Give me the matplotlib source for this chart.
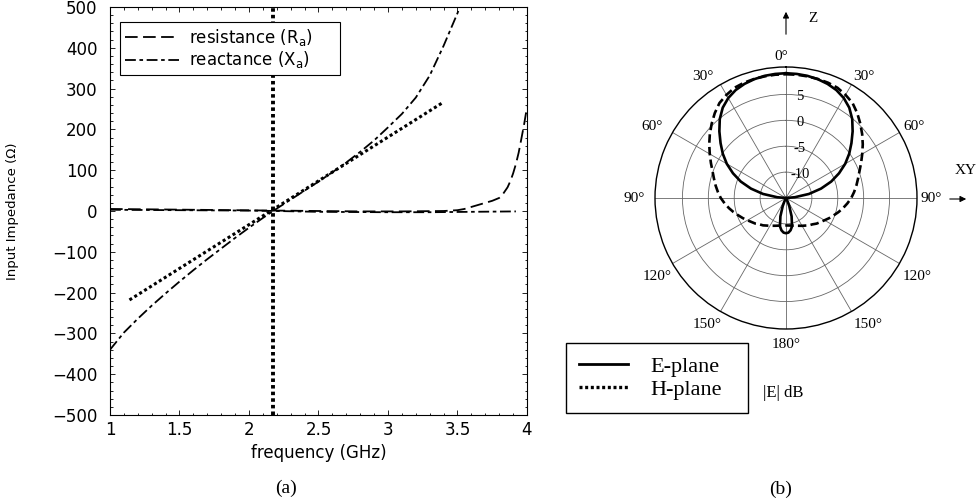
import numpy as np
import matplotlib
matplotlib.use("Agg")
import matplotlib.pyplot as plt
from matplotlib.ticker import MultipleLocator, FuncFormatter
from matplotlib.lines import Line2D
import matplotlib.transforms as mtransforms
from matplotlib.patches import FancyArrowPatch

plt.rcParams['mathtext.default'] = 'regular'

# ---------------- data: panel (a) ----------------
res_freq = [1.0, 1.3, 1.6, 1.9, 2.2, 2.5, 2.8, 3.1, 3.4, 3.5, 3.55, 3.6, 3.65, 3.7,
            3.75, 3.8, 3.82, 3.86, 3.88, 3.9, 3.92, 3.94, 3.96, 3.98, 4.0]
res_ohm = [5, 4, 3, 2, 1, 0, -1, -1, 0, 2, 5, 10, 15, 20, 25, 32, 38, 58, 73, 92,
           115, 143, 178, 214, 255]

reac_freq = [1.0, 1.1, 1.2, 1.3, 1.4, 1.5, 1.6, 1.7, 1.8, 1.9, 2.0, 2.1, 2.2, 2.3,
             2.4, 2.5, 2.6, 2.7, 2.8, 2.9, 3.0, 3.1, 3.2, 3.3, 3.4, 3.5, 3.54]
reac_ohm = [-340, -298, -264, -232, -202, -173, -145, -118, -92, -66, -41, -17, 6, 28,
            50, 72, 95, 119, 145, 173, 205, 238, 278, 332, 405, 485, 520]

flat_freq = [1.0, 1.5, 2.0, 2.2, 2.5, 3.0, 3.3, 3.6, 3.92]
flat_ohm = [3, 2, 1, 0, -2, -3, -3, -2, -1]

fit_freq = [1.14, 3.40]
fit_ohm = [-218, 267]

resonance_freq = 2.173

# ---------------- data: panel (b) ----------------
e_angle = [0, 5, 10, 15, 20, 25, 30, 35, 40, 45, 50, 55, 60, 65, 70, 75, 80, 85, 90,
           150, 155, 158, 163, 168, 172, 176, 180]
e_db = [9.1, 9.05, 8.95, 8.75, 8.45, 8.0, 7.3, 6.3, 4.9, 3.2, 1.5, -0.1, -1.8, -3.7,
        -5.7, -8.0, -10.5, -13.3, -15, -15, -14.2, -13.3, -11.3, -9.4, -8.7, -8.3, -8.2]

h_angle = [0, 5, 10, 15, 20, 25, 30, 35, 40, 45, 50, 55, 60, 65, 70, 75, 80, 85, 90,
           95, 100, 105, 110, 115, 120, 125, 130, 135, 140, 145, 150, 160, 170, 180]
h_db = [8.9, 8.9, 8.85, 8.8, 8.7, 8.5, 8.0, 7.4, 6.4, 5.3, 4.2, 3.1, 2.0, 1.0, 0.1,
        -0.6, -1.2, -1.8, -2.4, -3.1, -3.8, -4.5, -5.2, -5.8, -6.4, -6.9, -7.3, -7.8,
        -8.1, -8.5, -8.8, -9.3, -9.6, -9.7]

r_ticks = [-10, -5, 0, 5]
r_tick_labels = ['-10', '-5', '0', '5']
theta_labels = ['0°', '30°', '30°', '60°', '60°', '90°', '90°', '120°', '120°',
                '150°', '150°', '180°']

W, H = 978, 504
fig = plt.figure(figsize=(W / 100, H / 100), dpi=100)

def fx(px):
    return px / W

def fy(py):
    return 1 - py / H

sans = 'DejaVu Sans'
serif = 'Liberation Serif'

# ================= panel (a) =================
ax1 = fig.add_axes([fx(110), fy(415), 417 / W, 408 / H])
ax1.plot(flat_freq, flat_ohm, color='black', lw=1.3, dashes=(6, 2, 2, 2))
ax1.plot(res_freq, res_ohm, color='black', lw=1.3, dashes=(7, 3),
         label='resistance (R$_a$)')
ax1.plot(reac_freq, reac_ohm, color='black', lw=1.3, dashes=(6, 2, 2, 2),
         label='reactance (X$_a$)')
ax1.plot(fit_freq, fit_ohm, color='black', lw=2.2, dashes=(1.0, 0.9))
ax1.axvline(resonance_freq, color='black', lw=2.8, dashes=(0.9, 0.8))

ax1.set_xlim(1, 4)
ax1.set_ylim(-500, 500)
ax1.xaxis.set_major_locator(MultipleLocator(0.5))
ax1.xaxis.set_minor_locator(MultipleLocator(0.1))
ax1.yaxis.set_major_locator(MultipleLocator(100))
ax1.yaxis.set_minor_locator(MultipleLocator(20))
ax1.xaxis.set_major_formatter(FuncFormatter(lambda v, p: f'{v:g}'))
ax1.yaxis.set_major_formatter(FuncFormatter(lambda v, p: f'{v:g}'.replace('-', '\u2212')))
ax1.tick_params(which='both', direction='in', top=True, right=True, width=0.6)
ax1.tick_params(which='major', length=3.6)
ax1.tick_params(which='minor', length=1.8)
ax1.tick_params(axis='x', pad=4.0, labelsize=12)
ax1.tick_params(axis='y', pad=9, labelsize=12)
for lab in ax1.get_xticklabels() + ax1.get_yticklabels():
    lab.set_family(sans)
for sp in ax1.spines.values():
    sp.set_linewidth(0.8)

ax1.set_xlabel('frequency (GHz)', family=sans, fontsize=12, labelpad=4)
ax1.set_ylabel('Input Impedance (Ω)', family=sans, fontsize=9.5)
ax1.yaxis.set_label_coords((19 - 110) / 417, 0.5)

leg_w = 220 / 417
leg1 = ax1.legend(loc='upper left', bbox_to_anchor=(0.025, 0.964 - 0.2, leg_w, 0.2),
                  mode='expand', borderaxespad=0,
                  frameon=True, fancybox=False, edgecolor='black', framealpha=1,
                  handlelength=3.2, handletextpad=0.6, labelspacing=0.1,
                  borderpad=0.3, prop={'family': sans, 'size': 12})
leg1.get_frame().set_linewidth(0.8)

# ================= panel (b) =================
ax2 = fig.add_axes([fx(655), fy(329), 262 / W, 262 / H], projection='polar')
ax2.set_theta_zero_location('N')
ax2.set_theta_direction(-1)

e_ang = np.array(e_angle, dtype=float)
e_val = np.array(e_db, dtype=float)
h_ang = np.array(h_angle, dtype=float)
h_val = np.array(h_db, dtype=float)
e_theta = np.deg2rad(np.concatenate([e_ang, 360 - e_ang[::-1]]))
e_r = np.concatenate([e_val, e_val[::-1]])
h_theta = np.deg2rad(np.concatenate([h_ang, 360 - h_ang[::-1]]))
h_r = np.concatenate([h_val, h_val[::-1]])

ax2.plot(h_theta, h_r, color='black', lw=1.9, dashes=(3.2, 1.6))
ax2.plot(e_theta, e_r, color='black', lw=1.9)

ax2.set_rlim(-15, 10.3)
ax2.set_rgrids(r_ticks, labels=[''] * len(r_ticks))
ax2.set_thetagrids(np.arange(0, 360, 30), labels=[''] * 12)
ax2.grid(True, color='0.4', lw=0.6)
ax2.spines['polar'].set_linewidth(1.0)

for rv, rl in zip(r_ticks, r_tick_labels):
    tr = mtransforms.offset_copy(ax2.transData, fig=fig, x=14, y=-2.5, units='dots')
    ax2.text(0, rv, rl, transform=tr, ha='center', va='center',
             family=serif, fontsize=10.5)

theta_label_px = [(781, 57), (703, 76), (864, 76), (652, 126), (914, 126), (634, 199),
                  (931, 199), (657, 276), (917, 276), (707, 325), (868, 325), (786, 345)]
for (px, py), lab in zip(theta_label_px, theta_labels):
    fig.text(fx(px), fy(py), lab, ha='center', va='center', family=serif, fontsize=11)

# axis arrows
fig.add_artist(FancyArrowPatch(
    (fx(786), fy(37)), (fx(786), fy(9)), transform=fig.transFigure,
    arrowstyle='-|>', mutation_scale=9, color='black', lw=0.8))
fig.add_artist(FancyArrowPatch(
    (fx(947), fy(199)), (fx(969), fy(199)), transform=fig.transFigure,
    arrowstyle='-|>', mutation_scale=9, color='black', lw=0.8))
fig.text(fx(812.5), fy(18.5), 'Z', ha='center', va='center', family=serif, fontsize=11)
fig.text(fx(977), fy(171), 'XY', ha='right', va='center', family=serif, fontsize=11)

# legend of panel (b)
handles = [Line2D([], [], color='black', lw=2.0),
           Line2D([], [], color='black', lw=2.4, dashes=(0.9, 0.8))]
leg2 = fig.legend(handles, ['E-plane', 'H-plane'], loc='upper left',
                  bbox_to_anchor=(fx(566), fy(343) - 0.1, 182 / W, 0.1), mode='expand',
                  borderaxespad=0, frameon=True,
                  fancybox=False, edgecolor='black', framealpha=1, handlelength=2.2,
                  handletextpad=1.0, labelspacing=0.12, borderpad=0.6,
                  prop={'family': serif, 'size': 16})
leg2.get_frame().set_linewidth(1.0)

fig.text(fx(763), fy(393), '|E| dB', ha='left', va='center', family=serif, fontsize=12)

# captions
fig.text(fx(286), fy(488), '(a)', ha='center', va='center', family=serif, fontsize=14)
fig.text(fx(781), fy(489), '(b)', ha='center', va='center', family=serif, fontsize=14)

fig.savefig('out.png', dpi=100)
